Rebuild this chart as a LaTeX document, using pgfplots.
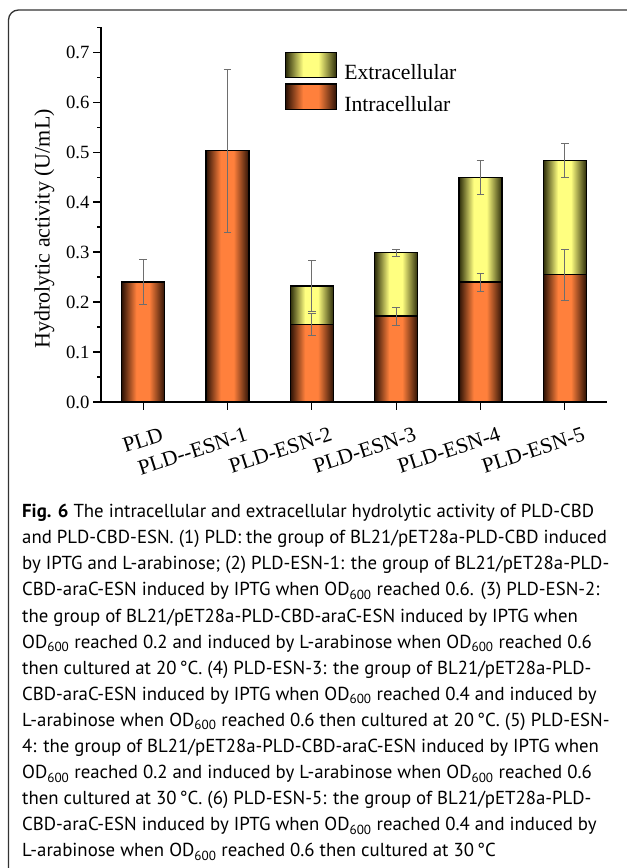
\documentclass[border=0pt]{standalone}
\usepackage{fontspec}
\setmainfont{Liberation Serif}
\newfontfamily\capfont{PT Sans}
\usepackage{pgfplots}
\usepackage{pgfplotstable}
\pgfplotsset{compat=1.18}

\definecolor{odark}{RGB}{45,18,5}
\definecolor{obright}{RGB}{255,128,60}
\definecolor{ydark}{RGB}{45,45,10}
\definecolor{ybright}{RGB}{255,255,128}
\definecolor{errgray}{RGB}{110,110,110}
\pgfdeclarehorizontalshading{orangebar}{100bp}{color(0bp)=(odark); color(25bp)=(odark); color(42bp)=(obright); color(57bp)=(obright); color(75bp)=(odark); color(100bp)=(odark)}
\pgfdeclarehorizontalshading{yellowbar}{100bp}{color(0bp)=(ydark); color(25bp)=(ydark); color(42bp)=(ybright); color(57bp)=(ybright); color(75bp)=(ydark); color(100bp)=(ydark)}

\newcommand{\legswatch}[2]{%
  \foreach \i in {0,...,25}{%
    \pgfmathsetmacro{\tt}{(\i+0.5)/26}%
    \pgfmathsetmacro{\pp}{\tt<0.34 ? 100*\tt/0.34 : (\tt<0.64 ? 100 : 100*(1-\tt)/0.36)}%
    \fill[#1!\pp!#2] ({\i*1.95bp},-5.2bp) rectangle ++(2.1bp,25.3bp);%
  }%
  \draw[black, line width=1.3bp] (0bp,-5.2bp) rectangle (50.7bp,20.1bp);%
}

\pgfplotstableread{
x intra err
1 0.240 0.045
2 0.503 0.163
3 0.155 0.022
4 0.172 0.018
5 0.240 0.018
6 0.255 0.051
}\intratab
\pgfplotstableread{
x intra extra err
3 0.155 0.077 0.051
4 0.172 0.127 0.007
5 0.240 0.210 0.034
6 0.255 0.228 0.034
}\extratab

\pgfplotsset{
  barbase/.style={ybar, bar width=43bp, bar shift=0pt, draw=black, line width=1.3bp,
    error bars/y dir=both, error bars/y explicit,
    error bars/error bar style={line width=1bp, color=errgray},
    error bars/error mark options={rotate=90, mark size=3.8bp, line width=1bp, color=errgray}},
  extrabar/.style={shading=yellowbar, barbase},
  intrabar/.style={shading=orangebar, barbase},
}

\begin{document}
\begin{tikzpicture}[x=1bp,y=1bp]
\useasboundingbox (0,0) rectangle (627,868);
\draw[line width=1.3bp, color=black!80, rounded corners=10bp] (660,858) -- (8.5,858) -- (8.5,-30);
\begin{axis}[
  scale only axis, width=506bp, height=374.7bp,
  at={(101bp,466bp)}, anchor=south west,
  xmin=0.5, xmax=6.5, ymin=0, ymax=0.75,
  axis x line*=bottom, axis y line*=left,
  axis line style={line width=1.4bp, -},
  tick align=outside,
  major tick style={line width=1.3bp, black},
  minor tick style={line width=1.3bp, black},
  major tick length=8bp, minor tick length=4bp,
  xtick={1,2,3,4,5,6},
  xticklabels={PLD, PLD-{}-ESN-1, PLD-ESN-2, PLD-ESN-3, PLD-ESN-4, PLD-ESN-5},
  xticklabel style={font=\fontsize{21.5bp}{24bp}\selectfont, rotate=18, anchor=north east, inner sep=0pt, xshift=11bp, yshift=-21bp},
  ytick={0,0.1,0.2,0.3,0.4,0.5,0.6,0.7},
  minor ytick={0.05,0.15,0.25,0.35,0.45,0.55,0.65,0.75},
  yticklabel style={font=\fontsize{18.7bp}{20bp}\selectfont, /pgf/number format/.cd, fixed, fixed zerofill, precision=1, assume math mode=true},
  ylabel={Hydrolytic activity (U/mL)},
  ylabel style={font=\fontsize{22bp}{24bp}\selectfont, at={(axis description cs:-0.1117,0.4617)}, anchor=center},
  legend style={at={(axis description cs:0.3636,0.935)}, anchor=north west, draw=none, fill=none, inner sep=0pt, row sep=2.6bp, column sep=7bp, font=\fontsize{21.7bp}{24bp}\selectfont, nodes={inner sep=0pt}},
  legend cell align=left,
]
\addplot[extrabar, x filter/.expression={x==3 ? x : nan},
  legend image code/.code={\legswatch{ybright}{ydark}}]
  table[x=x, y expr=\thisrow{intra}+\thisrow{extra}, y error=err] {\extratab};
\addlegendentry{Extracellular}
\pgfplotsinvokeforeach{4,5,6}{
\addplot[extrabar, forget plot, x filter/.expression={x==#1 ? x : nan}]
  table[x=x, y expr=\thisrow{intra}+\thisrow{extra}, y error=err] {\extratab};
}
\addplot[intrabar, x filter/.expression={x==1 ? x : nan},
  legend image code/.code={\legswatch{obright}{odark}}]
  table[x=x, y=intra, y error=err] {\intratab};
\addlegendentry{Intracellular}
\pgfplotsinvokeforeach{2,3,4,5,6}{
\addplot[intrabar, forget plot, x filter/.expression={x==#1 ? x : nan}]
  table[x=x, y=intra, y error=err] {\intratab};
}
\end{axis}
\node[anchor=north west, inner sep=0pt, align=left, font=\capfont\fontsize{18.8bp}{26.1bp}\selectfont] at (22,364) {%
\textbf{Fig. 6} The intracellular and extracellular hydrolytic activity of PLD-CBD\\
and PLD-CBD-ESN. (1) PLD: the group of BL21/pET28a-PLD-CBD induced\\
by IPTG and L-arabinose; (2) PLD-ESN-1: the group of BL21/pET28a-PLD-\\
CBD-araC-ESN induced by IPTG when OD\textsubscript{600} reached 0.6. (3) PLD-ESN-2:\\
the group of BL21/pET28a-PLD-CBD-araC-ESN induced by IPTG when\\
OD\textsubscript{600} reached 0.2 and induced by L-arabinose when OD\textsubscript{600} reached 0.6\\
then cultured at 20\,°C. (4) PLD-ESN-3: the group of BL21/pET28a-PLD-\\
CBD-araC-ESN induced by IPTG when OD\textsubscript{600} reached 0.4 and induced by\\
L-arabinose when OD\textsubscript{600} reached 0.6 then cultured at 20\,°C. (5) PLD-ESN-\\
4: the group of BL21/pET28a-PLD-CBD-araC-ESN induced by IPTG when\\
OD\textsubscript{600} reached 0.2 and induced by L-arabinose when OD\textsubscript{600} reached 0.6\\
then cultured at 30\,°C. (6) PLD-ESN-5: the group of BL21/pET28a-PLD-\\
CBD-araC-ESN induced by IPTG when OD\textsubscript{600} reached 0.4 and induced by\\
L-arabinose when OD\textsubscript{600} reached 0.6 then cultured at 30\,°C};
\end{tikzpicture}
\end{document}
